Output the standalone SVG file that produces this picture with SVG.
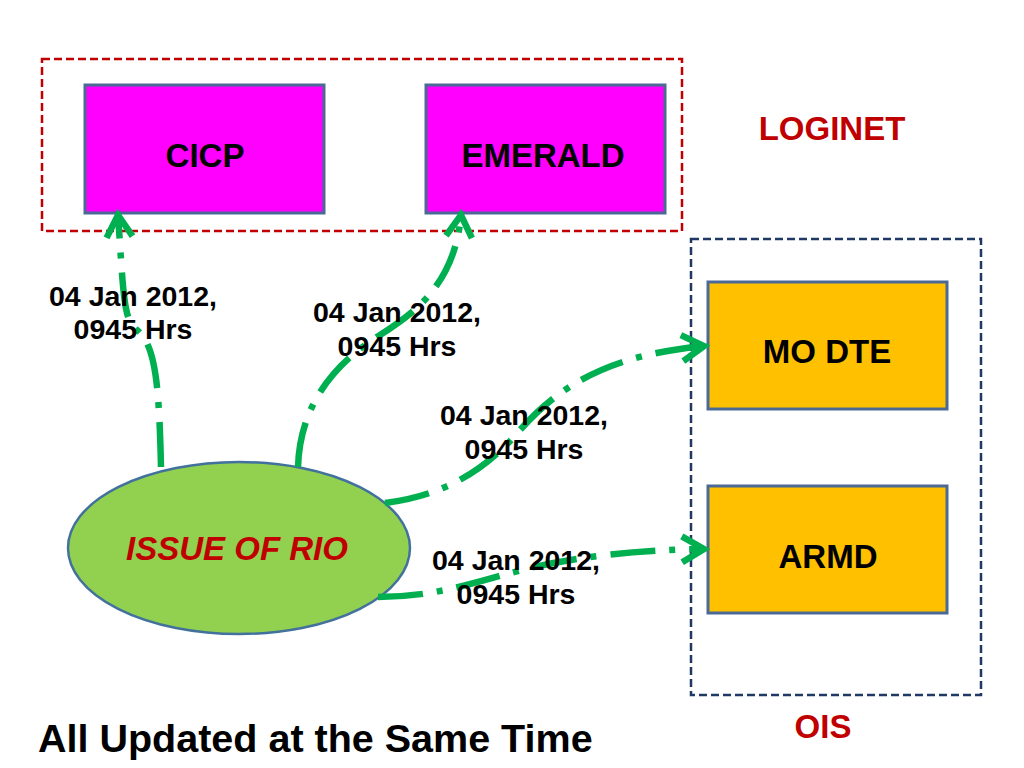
<svg xmlns="http://www.w3.org/2000/svg" width="1024" height="768" viewBox="0 0 1024 768">
<defs>
<style>
.box{stroke:#4A6A95;stroke-width:3}
.lbl{font-family:"Liberation Sans",Arial,sans-serif;font-weight:bold;font-size:33px;fill:#000;text-anchor:middle}
.grp{font-family:"Liberation Sans",Arial,sans-serif;font-weight:bold;font-size:33px;fill:#C00000;text-anchor:middle}
.date{font-family:"Liberation Sans",Arial,sans-serif;font-weight:bold;font-size:28.5px;fill:#000;text-anchor:middle}
.conn{fill:none;stroke:#00B050;stroke-width:6.5;stroke-dasharray:45 14 6 14}
</style>
<marker id="arr" markerUnits="userSpaceOnUse" markerWidth="34" markerHeight="34" viewBox="0 0 34 34" refX="27" refY="17" orient="auto">
<path d="M5,4 L27,17 L5,30" fill="none" stroke="#00B050" stroke-width="6.5"/>
</marker>
</defs>
<rect width="1024" height="768" fill="#fff"/>
<g id="loginet">
<rect x="42" y="59" width="640" height="172" fill="none" stroke="#C00000" stroke-width="2.5" stroke-dasharray="8 4"/>
<text class="grp" x="832" y="140">LOGINET</text>
</g>
<g id="ois">
<rect x="691" y="239" width="290" height="456" fill="none" stroke="#1F3864" stroke-width="2.5" stroke-dasharray="8 4"/>
<text class="grp" x="823" y="738">OIS</text>
</g>
<g id="cicp">
<rect class="box" x="85" y="85" width="239" height="128" fill="#FF00FF"/>
<text class="lbl" x="205" y="167">CICP</text>
</g>
<g id="emerald">
<rect class="box" x="426" y="85" width="239" height="128" fill="#FF00FF"/>
<text class="lbl" x="543" y="167">EMERALD</text>
</g>
<g id="modte">
<rect class="box" x="708" y="282" width="239" height="127" fill="#FFC000"/>
<text class="lbl" x="827" y="363">MO DTE</text>
</g>
<g id="armd">
<rect class="box" x="708" y="486" width="239" height="127" fill="#FFC000"/>
<text class="lbl" x="828" y="568">ARMD</text>
</g>
<g id="rio">
<ellipse cx="239" cy="548" rx="171" ry="86" fill="#92D050" stroke="#41719C" stroke-width="2.5"/>
<text x="237" y="560" style="font-family:'Liberation Sans',Arial,sans-serif;font-weight:bold;font-style:italic;font-size:33px;fill:#C00000;text-anchor:middle">ISSUE OF RIO</text>
</g>
<g id="connectors">
<path class="conn" d="M161,467 C159,380 155,345 137,330 C123,318 124,300 118,215" marker-end="url(#arr)"/>
<path class="conn" d="M298,467 C300,400 340,360 380,335 C420,310 455,280 461,215" marker-end="url(#arr)"/>
<path class="conn" d="M385,503 C450,495 490,465 520,430 C560,385 610,355 704,346" marker-end="url(#arr)"/>
<path class="conn" d="M378,597 C440,597 480,580 530,568 C580,556 640,550 704,549" marker-end="url(#arr)"/>
<text class="date" x="133" y="306">04 Jan 2012,</text>
<text class="date" x="133" y="339">0945 Hrs</text>
<text class="date" x="397" y="322">04 Jan 2012,</text>
<text class="date" x="397" y="356">0945 Hrs</text>
<text class="date" x="524" y="425">04 Jan 2012,</text>
<text class="date" x="524" y="459">0945 Hrs</text>
<text class="date" x="516" y="570">04 Jan 2012,</text>
<text class="date" x="516" y="604">0945 Hrs</text>
</g>
<text x="38" y="752" style="font-family:'Liberation Sans',Arial,sans-serif;font-weight:bold;font-size:39.5px;fill:#000">All Updated at the Same Time</text>
</svg>
